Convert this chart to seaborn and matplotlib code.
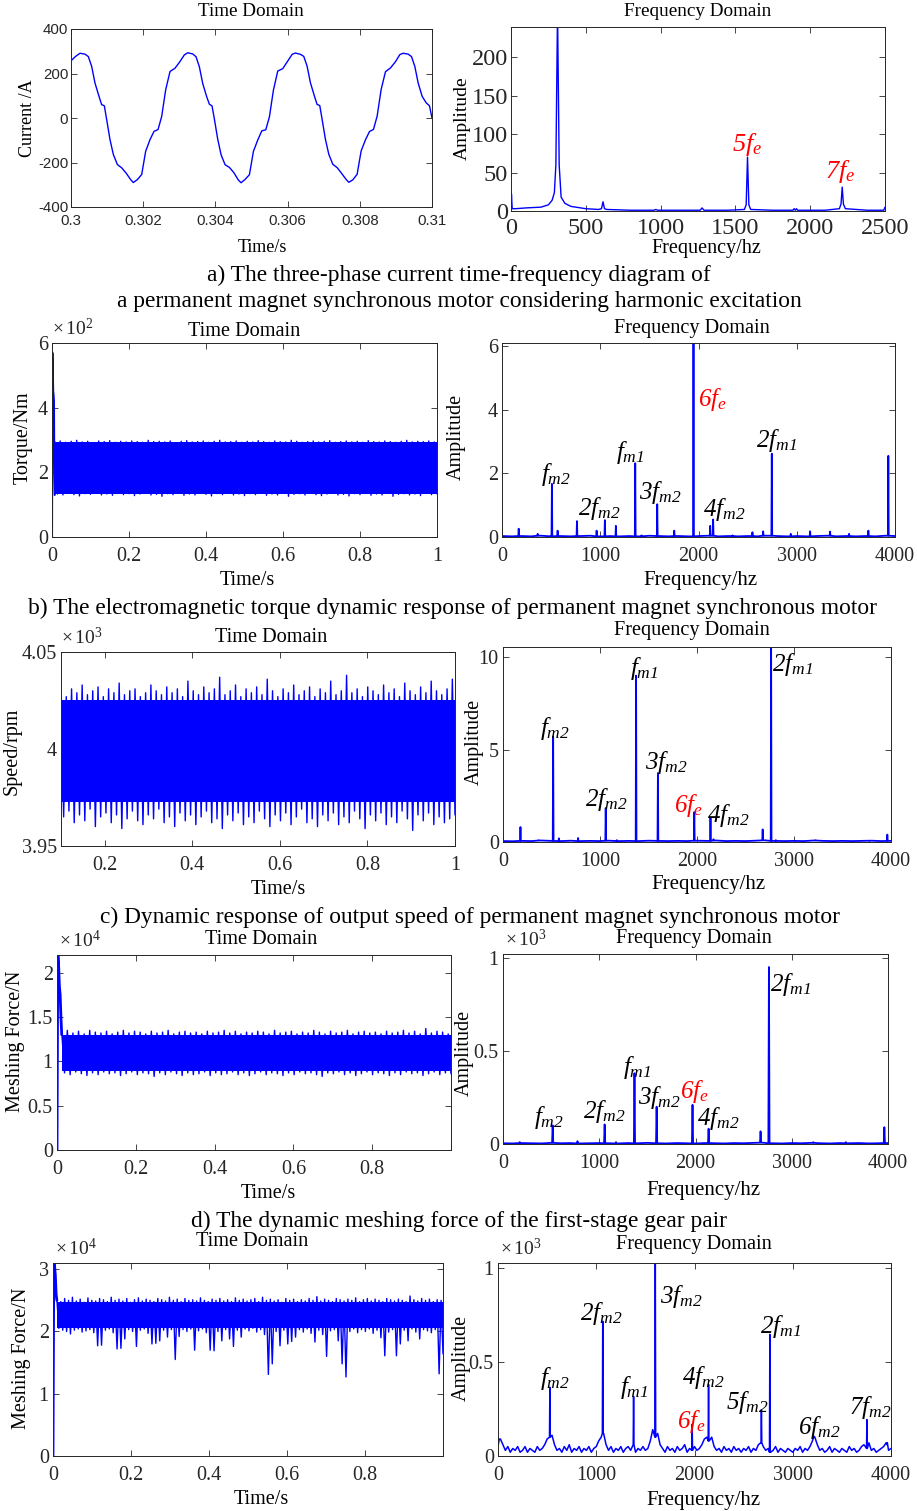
import numpy as np
import pandas as pd
import seaborn as sns
import matplotlib.pyplot as plt

# ---------------- data ----------------
# a) phase current (A) over 0.3-0.31 s
cur_t = [0.30000, 0.30012,
         0.300249, 0.300388, 0.300480, 0.300572, 0.300665, 0.300776, 0.300849, 0.300923, 0.300988, 0.301080,
         0.301173, 0.301284, 0.301404, 0.301524, 0.301653, 0.301727, 0.301838, 0.301958, 0.302069, 0.302189,
         0.302300, 0.302411, 0.302512, 0.302623, 0.302743, 0.302882, 0.303020, 0.303141,
         0.303233, 0.303372, 0.303464, 0.303556, 0.303649, 0.303760, 0.303833, 0.303907, 0.303972, 0.304064,
         0.304157, 0.304268, 0.304388, 0.304508, 0.304637, 0.304711, 0.304822, 0.304942, 0.305053, 0.305173,
         0.305284, 0.305395, 0.305496, 0.305607, 0.305727, 0.305866, 0.306004, 0.306125,
         0.306217, 0.306356, 0.306448, 0.306540, 0.306633, 0.306744, 0.306817, 0.306891, 0.306956, 0.307048,
         0.307141, 0.307252, 0.307372, 0.307492, 0.307621, 0.307695, 0.307806, 0.307926, 0.308037, 0.308157,
         0.308268, 0.308379, 0.308480, 0.308591, 0.308711, 0.308850, 0.308988, 0.309109,
         0.309201, 0.309340, 0.309432, 0.309524, 0.309617, 0.309728, 0.309840, 0.309930, 0.310000]
cur_a = [257, 276,
         291, 287, 276, 232, 157, 97, 60, 55, -7, -97, -164, -209, -224, -247, -277, -290, -277, -254, -149, -97,
         -60, -52, 7, 127, 209, 224, 254, 284,
         293, 288, 275, 230, 155, 95, 62, 54, -5, -95, -165, -210, -222, -245, -279, -291, -276, -255, -150, -99,
         -58, -53, 5, 125, 211, 222, 256, 286,
         292, 286, 277, 233, 158, 98, 61, 56, -6, -96, -163, -208, -223, -248, -276, -289, -278, -253, -148, -98,
         -61, -51, 8, 128, 208, 225, 253, 285,
         291, 287, 276, 232, 157, 97, 68, 55, 0]

# a) current spectrum
a_freq = [0, 3, 8, 30, 100, 200, 250, 275, 290, 300, 311, 322, 335, 360, 400, 500, 585, 605, 615, 625,
          640, 800, 955, 968, 980, 1150, 1265, 1277, 1290, 1450, 1560, 1572, 1581, 1590, 1602, 1750, 1885, 1892,
          1900, 1908, 1915, 2100, 2195, 2206, 2214, 2222, 2235, 2380, 2492, 2500]
a_amp = [0, 22, 3, 3, 4, 5, 8, 14, 24, 60, 260, 60, 18, 10, 6, 3, 2, 3, 12, 3,
         2, 1, 1, 2, 1, 1, 1, 4, 1, 1, 2, 8, 70, 8, 2, 1, 1, 3, 1, 3,
         1, 1, 3, 9, 31, 9, 3, 1, 1, 5]

# b) electromagnetic torque (x10^2 Nm): start-up transient + band edges
b_tr_t = [0, 0.001, 0.002, 0.003, 0.004, 0.005, 0.006, 0.007]
b_tr_v = [0, 5.7, 5.2, 4.5, 4.4, 4.2, 2.0, 1.3]
b_core = [1.33, 2.93]
b_hi = [2.95, 2.97, 2.93, 2.96, 2.99, 2.94, 2.96, 2.92, 2.97, 2.95, 2.98, 2.93, 2.96, 2.94, 2.97, 2.95, 2.93, 2.99,
        2.95, 2.96, 2.94, 2.97, 2.92, 2.96, 2.98, 2.94, 2.95, 2.97, 2.93, 2.96, 2.99, 2.94, 2.95, 2.97, 2.93, 2.96,
        2.94, 2.98, 2.95, 2.93, 2.97, 2.95, 2.94, 2.99, 2.96, 2.93, 2.95, 2.97, 2.94, 2.96, 2.98, 2.93, 2.95, 2.97,
        2.94, 2.96, 2.93, 2.98, 2.95, 2.94, 2.97, 2.95, 2.93, 2.96, 2.99, 2.94, 2.96, 2.95, 2.97, 2.94]
b_lo = [1.33, 1.30, 1.35, 1.31, 1.27, 1.34, 1.32, 1.36, 1.30, 1.33, 1.29, 1.35, 1.31, 1.34, 1.28, 1.33, 1.36, 1.30,
        1.32, 1.26, 1.34, 1.31, 1.35, 1.29, 1.33, 1.30, 1.36, 1.32, 1.27, 1.34, 1.31, 1.35, 1.30, 1.33, 1.28, 1.34,
        1.31, 1.36, 1.29, 1.33, 1.30, 1.35, 1.26, 1.32, 1.34, 1.30, 1.36, 1.31, 1.28, 1.33, 1.35, 1.30, 1.32, 1.27,
        1.34, 1.31, 1.36, 1.29, 1.33, 1.30, 1.35, 1.26, 1.32, 1.34, 1.30, 1.33, 1.28, 1.35, 1.31, 1.33]
b_pk_f = [170, 363, 508, 566, 763, 963, 1047, 1159, 1356, 1420, 1580, 1753, 1949, 2119, 2149, 2346, 2549, 2658,
          2746, 2939, 3136, 3339, 3532, 3729, 3932]
b_pk_a = [0.26, 0.1, 1.67, 0.2, 0.5, 0.2, 0.53, 0.35, 2.32, 0.05, 1.03, 0.2, 6.3, 0.35, 0.55, 0.05, 0.15, 0.18,
          2.62, 0.1, 0.18, 0.17, 0.1, 0.2, 2.55]
b_floor = [0.03, 0.02, 0.03, 0.02, 0.04, 0.02, 0.03, 0.02, 0.03, 0.04, 0.02, 0.03, 0.02, 0.03, 0.02, 0.04, 0.03,
           0.02, 0.03, 0.02, 0.03, 0.04, 0.02, 0.03, 0.02, 0.03, 0.02, 0.04, 0.03, 0.02, 0.03, 0.02, 0.03, 0.04,
           0.02, 0.03, 0.02, 0.03, 0.02, 0.04, 0.03]

# c) output speed (x10^3 rpm)
c_core = [3.9725, 4.0255]
c_hi = [4.030, 4.027, 4.031, 4.029, 4.033, 4.028, 4.030, 4.032, 4.027, 4.031, 4.029, 4.034, 4.028, 4.030, 4.031,
        4.027, 4.029, 4.033, 4.030, 4.028, 4.032, 4.029, 4.031, 4.027, 4.035, 4.030, 4.028, 4.032, 4.029, 4.031,
        4.037, 4.028, 4.030, 4.033, 4.027, 4.031, 4.029, 4.032, 4.028, 4.036, 4.030, 4.027, 4.031, 4.029, 4.033,
        4.028, 4.030, 4.032, 4.027, 4.031, 4.029, 4.035, 4.028, 4.030, 4.038, 4.029, 4.031, 4.027, 4.032, 4.030,
        4.028, 4.033, 4.029, 4.031, 4.027, 4.034, 4.030, 4.028, 4.032, 4.029, 4.035, 4.030, 4.028, 4.031, 4.036]
c_lo = [3.965, 3.968, 3.962, 3.966, 3.963, 3.969, 3.960, 3.965, 3.967, 3.962, 3.966, 3.959, 3.964, 3.968, 3.963,
        3.961, 3.966, 3.964, 3.969, 3.962, 3.965, 3.960, 3.967, 3.963, 3.966, 3.961, 3.965, 3.968, 3.962, 3.964,
        3.959, 3.966, 3.963, 3.967, 3.961, 3.965, 3.962, 3.968, 3.964, 3.960, 3.966, 3.963, 3.967, 3.961, 3.965,
        3.969, 3.962, 3.964, 3.960, 3.966, 3.963, 3.967, 3.961, 3.965, 3.962, 3.968, 3.964, 3.959, 3.966, 3.963,
        3.967, 3.961, 3.965, 3.962, 3.968, 3.964, 3.958, 3.966, 3.963, 3.967, 3.961, 3.965, 3.962, 3.964, 3.966]
c_pk_f = [180, 368, 517, 576, 774, 1059, 1174, 1372, 1597, 1972, 2139, 2170, 2677, 2764, 2813, 3222, 3778, 3962]
c_pk_a = [0.81, 0.1, 5.71, 0.2, 0.22, 1.84, 0.1, 9.0, 3.73, 1.62, 1.3, 0.15, 0.68, 11.0, 0.1, 0.1, 0.05, 0.4]
c_floor = [0.05, 0.04, 0.06, 0.05, 0.08, 0.06, 0.05, 0.07, 0.05, 0.06, 0.05, 0.07, 0.05, 0.06, 0.05, 0.07, 0.06,
           0.05, 0.06, 0.05, 0.07, 0.06, 0.08, 0.05, 0.06, 0.05, 0.07, 0.09, 0.06, 0.05, 0.06, 0.05, 0.08, 0.06,
           0.05, 0.06, 0.05, 0.06, 0.07, 0.05, 0.06]

# d) first-stage meshing force (x10^4 N)
d_tr_t = [0, 0.002, 0.004, 0.006, 0.008, 0.010, 0.012]
d_tr_v = [0, 2.25, 2.1, 1.85, 1.75, 1.5, 1.3]
d_core = [0.89, 1.30]
d_hi = [1.33, 1.35, 1.32, 1.34, 1.31, 1.35, 1.33, 1.32, 1.34, 1.31, 1.33, 1.35, 1.32, 1.34, 1.33, 1.31, 1.34, 1.32,
        1.33, 1.35, 1.31, 1.33, 1.34, 1.32, 1.33, 1.31, 1.34, 1.32, 1.33, 1.35, 1.32, 1.34, 1.31, 1.33, 1.32, 1.34,
        1.33, 1.31, 1.35, 1.32, 1.33, 1.34, 1.31, 1.33, 1.32, 1.35, 1.33, 1.31, 1.34, 1.32, 1.33, 1.35, 1.31, 1.33,
        1.34, 1.32, 1.33, 1.31, 1.34, 1.32, 1.33, 1.35, 1.32, 1.34, 1.31, 1.37, 1.32, 1.34, 1.33, 1.31]
d_lo = [0.87, 0.85, 0.88, 0.86, 0.84, 0.87, 0.85, 0.88, 0.86, 0.87, 0.84, 0.86, 0.88, 0.85, 0.87, 0.86, 0.83, 0.87,
        0.85, 0.88, 0.86, 0.84, 0.87, 0.85, 0.86, 0.88, 0.84, 0.87, 0.85, 0.86, 0.88, 0.85, 0.87, 0.84, 0.86, 0.88,
        0.85, 0.87, 0.86, 0.84, 0.87, 0.85, 0.88, 0.86, 0.87, 0.85, 0.83, 0.87, 0.86, 0.88, 0.85, 0.87, 0.84, 0.86,
        0.88, 0.85, 0.87, 0.86, 0.84, 0.87, 0.85, 0.88, 0.86, 0.87, 0.84, 0.86, 0.88, 0.85, 0.87, 0.86]
d_pk_f = [174, 516, 774, 1056, 1174, 1366, 1596, 1969, 2136, 2676, 2763, 3223, 3561, 3962]
d_pk_a = [0.01, 0.1, 0.015, 0.105, 0.01, 0.38, 0.2, 0.21, 0.082, 0.068, 0.95, 0.01, 0.01, 0.09]
d_floor = [0.004, 0.003, 0.005, 0.004, 0.003, 0.006, 0.004, 0.005, 0.003, 0.004, 0.005, 0.004, 0.003, 0.005,
           0.004, 0.006, 0.004, 0.003, 0.005, 0.004, 0.003, 0.005, 0.004, 0.003, 0.005, 0.004, 0.006, 0.007,
           0.004, 0.003, 0.005, 0.004, 0.006, 0.004, 0.003, 0.005, 0.004, 0.005, 0.003, 0.004, 0.005]

# e) second-stage meshing force (x10^4 N)
e_tr_t = [0, 0.002, 0.004, 0.006, 0.008, 0.010]
e_tr_v = [0, 3.15, 3.05, 2.9, 2.6, 2.5]
e_core = [2.06, 2.47]
e_hi = [2.51, 2.48, 2.53, 2.50, 2.55, 2.49, 2.52, 2.47, 2.54, 2.50, 2.49, 2.53, 2.51, 2.48, 2.55, 2.50, 2.52, 2.49,
        2.53, 2.47, 2.51, 2.54, 2.49, 2.52, 2.50, 2.48, 2.53, 2.51, 2.49, 2.55, 2.50, 2.52, 2.48, 2.53, 2.50, 2.51,
        2.49, 2.54, 2.50, 2.48, 2.52, 2.50, 2.53, 2.49, 2.51, 2.48, 2.54, 2.50, 2.52, 2.49, 2.51, 2.53, 2.48, 2.55,
        2.50, 2.52, 2.49, 2.51, 2.47, 2.53, 2.50, 2.52, 2.48, 2.51, 2.49, 2.53, 2.50, 2.56, 2.49, 2.52, 2.50, 2.48,
        2.53, 2.51, 2.49, 2.52, 2.50, 2.54, 2.48, 2.51, 2.53, 2.49, 2.52, 2.50, 2.48, 2.53, 2.51, 2.49, 2.52, 2.50,
        2.48, 2.57, 2.51, 2.49, 2.53, 2.50, 2.52, 2.48, 2.51, 2.50]
e_lo = [2.05, 2.02, 2.00, 1.96, 2.02, 2.04, 1.99, 2.01, 2.03, 1.98, 1.77, 1.78, 2.02, 2.04, 1.98, 1.72, 1.73, 1.88,
        2.03, 2.00, 1.76, 2.02, 2.04, 1.97, 1.80, 1.81, 1.85, 2.02, 1.91, 2.03, 1.55, 1.92, 2.03, 2.00, 2.04, 1.70,
        2.01, 2.04, 1.98, 1.70, 1.69, 2.00, 1.85, 2.03, 1.88, 1.76, 2.02, 1.91, 2.04, 2.01, 2.05, 1.99, 2.03, 1.95,
        1.31, 1.48, 2.00, 1.77, 2.02, 1.80, 1.84, 1.91, 2.03, 1.99, 2.04, 1.97, 1.83, 2.02, 1.95, 1.60, 2.01, 2.03,
        1.85, 1.48, 1.27, 2.00, 2.04, 1.98, 2.03, 2.00, 2.04, 1.97, 2.02, 1.90, 1.61, 1.99, 2.03, 1.61, 1.80, 2.02,
        1.85, 2.04, 1.99, 1.88, 2.03, 2.01, 1.98, 2.03, 1.32, 1.64]
e_pk_f = [17, 528, 1066, 1380, 1601, 1976, 2143, 2681, 2767, 3216, 3755, 3959]
e_pk_a = [0.09, 0.365, 0.716, 0.316, 1.05, 0.168, 0.38, 0.246, 0.646, 0.105, 0.193, 0.06]
e_floor = [0.05, 0.09, 0.06, 0.03, 0.05, 0.02, 0.04, 0.03, 0.05, 0.02, 0.03, 0.05, 0.02, 0.04, 0.03, 0.02, 0.05,
           0.03, 0.04, 0.06,
           0.09, 0.10, 0.11, 0.06, 0.03, 0.04, 0.02, 0.05, 0.03, 0.06, 0.02, 0.04, 0.03, 0.05, 0.02, 0.04, 0.03,
           0.05, 0.02, 0.04,
           0.05, 0.08, 0.10, 0.12, 0.06, 0.03, 0.05, 0.02, 0.04, 0.03, 0.05, 0.02, 0.04, 0.05, 0.03, 0.06, 0.02,
           0.04, 0.03, 0.05,
           0.03, 0.04, 0.08, 0.14, 0.10, 0.12, 0.06, 0.04, 0.02, 0.05, 0.03, 0.04, 0.02, 0.05, 0.03, 0.04, 0.06,
           0.02, 0.04, 0.03,
           0.05, 0.03, 0.04, 0.06, 0.09, 0.10, 0.08, 0.10, 0.05, 0.03, 0.04, 0.02, 0.05, 0.03, 0.04, 0.02, 0.05,
           0.03, 0.04, 0.02,
           0.04, 0.03, 0.05, 0.02, 0.04, 0.03, 0.06, 0.07, 0.05, 0.03, 0.04, 0.02, 0.03, 0.05, 0.02, 0.04, 0.03,
           0.02, 0.04, 0.03,
           0.02, 0.04, 0.03, 0.05, 0.02, 0.04, 0.03, 0.05, 0.08, 0.10, 0.06, 0.03, 0.04, 0.02, 0.03, 0.05, 0.02,
           0.04, 0.03, 0.02,
           0.04, 0.03, 0.02, 0.05, 0.03, 0.04, 0.02, 0.03, 0.05, 0.06, 0.04, 0.07, 0.03, 0.04, 0.02, 0.03, 0.04,
           0.05, 0.07, 0.03,
           0.04]

# ---------------- style ----------------
sns.set_theme(style='ticks')
plt.rcParams['font.family'] = ['Liberation Serif', 'DejaVu Serif']
plt.rcParams['mathtext.fontset'] = 'custom'
# harmonic labels are fully italic (digits too); \mathsf is used for the upright exponent labels
plt.rcParams['mathtext.rm'] = 'Liberation Serif:italic'
plt.rcParams['mathtext.it'] = 'Liberation Serif:italic'
plt.rcParams['mathtext.sf'] = 'Liberation Serif'
plt.rcParams['figure.facecolor'] = 'white'
plt.rcParams['axes.facecolor'] = 'white'

W, H = 917, 1511
fig = plt.figure(figsize=(W / 100, H / 100), dpi=100)
BLUE = '#0000ff'
GREY = '#262626'
CAP = 16.8


def px_axes(x0, y0, x1, y1):
    return fig.add_axes([x0 / W, 1 - y1 / H, (x1 - x0) / W, (y1 - y0) / H])


def ftext(x, y, s, **kw):
    kw.setdefault('ha', 'center')
    kw.setdefault('va', 'center')
    kw.setdefault('color', 'black')
    fig.text(x / W, 1 - y / H, s, **kw)


def style(ax, size=14.5, xpad=7, ypad=3):
    ax.tick_params(axis='both', direction='in', top=True, right=True, length=4, width=0.6,
                   colors=GREY, labelsize=size)
    ax.tick_params(axis='x', pad=xpad)
    ax.tick_params(axis='y', pad=ypad)
    for s in ax.spines.values():
        s.set_visible(True)
        s.set_color(GREY)
        s.set_linewidth(0.7)
    ax.set_xlabel('')
    ax.set_ylabel('')


def exponent(ax, p, dx=0.0):
    ax.text(dx, 1.02, r'$\mathsf{\times\,10^{%d}}$' % p, transform=ax.transAxes,
            ha='left', va='bottom', fontsize=14, color=GREY)


def line(ax, x, y, lw=1.0):
    sns.lineplot(x=np.asarray(x, float), y=np.asarray(y, float), ax=ax, color=BLUE, linewidth=lw,
                 estimator=None, sort=False, legend=False)


def band(ax, t0, t1, hi, lo, core):
    ax.fill_between([t0, t1], core[0], core[1], color=BLUE, linewidth=0)
    t = np.linspace(t0, t1, 2 * len(hi))
    v = np.column_stack([hi, lo]).ravel()
    line(ax, t, v, lw=1.0)


def spectrum(pk_f, pk_a, floor, w=4):
    ff = np.linspace(0, 4000, len(floor))
    pts = [(f, a) for f, a in zip(ff, floor) if min(abs(f - p) for p in pk_f) > w]
    for p, a in zip(pk_f, pk_a):
        base = floor[int(np.argmin(np.abs(ff - p)))]
        pts += [(p - w, base), (p, a), (p + w, base)]
    return pd.DataFrame(sorted(pts), columns=['freq', 'amp'])


def mark(ax, x, y, s, red=False, size=18):
    ax.text(x, y, '$' + s + '$', ha='center', va='center', fontsize=size, color='red' if red else 'black')


# ---------------- row a ----------------
ax = px_axes(71, 29, 432, 207)
line(ax, cur_t, cur_a, lw=1.0)
ax.set_xlim(0.3, 0.31)
ax.set_ylim(-400, 400)
ax.set_xticks([0.3, 0.302, 0.304, 0.306, 0.308, 0.31])
ax.set_xticklabels(['0.3', '0.302', '0.304', '0.306', '0.308', '0.31'])
ax.set_yticks([-400, -200, 0, 200, 400])
ax.set_yticklabels(['-400', '-200', '0', '200', '400'])
style(ax, size=10.8, xpad=5, ypad=2)
for lbl in ax.get_xticklabels() + ax.get_yticklabels():
    lbl.set_fontfamily('Liberation Sans')
ftext(251, 12, 'Time Domain', fontsize=13.8)
ftext(28, 118, 'Current /A', fontsize=13, rotation=90)
ftext(262, 248, 'Time/s', fontsize=13)

ax = px_axes(511, 27, 885, 211)
line(ax, a_freq, a_amp, lw=1.0)
ax.set_xlim(0, 2500)
ax.set_ylim(0, 239)
ax.set_xticks([0, 500, 1000, 1500, 2000, 2500])
ax.set_xticklabels(['0', '500', '1000', '1500', '2000', '2500'])
ax.set_yticks([0, 50, 100, 150, 200])
ax.set_yticklabels(['0', '50', '100', '150', '200'])
style(ax, size=17.5, xpad=5, ypad=2)
mark(ax, 1577, 86, '5f_e', red=True, size=19)
mark(ax, 2200, 51, '7f_e', red=True, size=19)
ftext(698, 12, 'Frequency Domain', fontsize=13.8)
ftext(462, 118, 'Amplitude', fontsize=14, rotation=90)
ftext(706, 249, 'Frequency/hz', fontsize=14.5)

ftext(459, 275, 'a) The three-phase current time-frequency diagram of', fontsize=CAP)
ftext(459, 302, 'a permanent magnet synchronous motor considering harmonic excitation', fontsize=CAP)

# ---------------- row b ----------------
ax = px_axes(52, 343, 437, 537)
line(ax, b_tr_t, b_tr_v, lw=1.5)
band(ax, 0.007, 1.0, b_hi, b_lo, b_core)
ax.set_xlim(0, 1)
ax.set_ylim(0, 6)
ax.set_xticks([0, 0.2, 0.4, 0.6, 0.8, 1])
ax.set_xticklabels(['0', '0.2', '0.4', '0.6', '0.8', '1'])
ax.set_yticks([0, 2, 4, 6])
ax.set_yticklabels(['0', '2', '4', '6'])
style(ax)
exponent(ax, 2)
ftext(244, 332, 'Time Domain', fontsize=14.6)
ftext(23, 438, 'Torque/Nm', fontsize=14.5, rotation=90)
ftext(247, 580, 'Time/s', fontsize=14.5)

ax = px_axes(502, 343, 895, 537)
sp = spectrum(b_pk_f, b_pk_a, b_floor)
line(ax, sp['freq'], sp['amp'], lw=1.3)
ax.set_xlim(0, 4000)
ax.set_ylim(0, 6.1)
ax.set_xticks([0, 1000, 2000, 3000, 4000])
ax.set_xticklabels(['0', '1000', '2000', '3000', '4000'])
ax.set_yticks([0, 2, 4, 6])
ax.set_yticklabels(['0', '2', '4', '6'])
style(ax)
for x, y, s, r in [(549, 1.95, 'f_{m2}', False), (990, 0.9, '2f_{m2}', False), (1302, 2.66, 'f_{m1}', False),
                   (1607, 1.39, '3f_{m2}', False), (2142, 4.31, '6f_e', True), (2261, 0.85, '4f_{m2}', False),
                   (2793, 3.04, '2f_{m1}', False)]:
    mark(ax, x, y, s, red=r)
ftext(692, 328, 'Frequency Domain', fontsize=14.6)
ftext(456, 437, 'Amplitude', fontsize=14.5, rotation=90)
ftext(700, 580, 'Frequency/hz', fontsize=15)

ftext(453, 608, 'b) The electromagnetic torque dynamic response of permanent magnet synchronous motor',
      fontsize=CAP)

# ---------------- row c ----------------
ax = px_axes(61, 652, 455, 846)
band(ax, 0.1, 1.0, c_hi, c_lo, c_core)
ax.set_xlim(0.1, 1.0)
ax.set_ylim(3.95, 4.05)
ax.set_xticks([0.2, 0.4, 0.6, 0.8, 1.0])
ax.set_xticklabels(['0.2', '0.4', '0.6', '0.8', '1'])
ax.set_yticks([3.95, 4.0, 4.05])
ax.set_yticklabels(['3.95', '4', '4.05'])
style(ax)
exponent(ax, 3)
ftext(271, 638, 'Time Domain', fontsize=14.6)
ftext(12, 751, 'Speed/rpm', fontsize=14.5, rotation=90)
ftext(278, 889, 'Time/s', fontsize=14.5)

ax = px_axes(503, 647, 891, 842)
sp = spectrum(c_pk_f, c_pk_a, c_floor)
line(ax, sp['freq'], sp['amp'], lw=1.3)
ax.set_xlim(0, 4000)
ax.set_ylim(0, 10.55)
ax.set_xticks([0, 1000, 2000, 3000, 4000])
ax.set_xticklabels(['0', '1000', '2000', '3000', '4000'])
ax.set_yticks([0, 5, 10])
ax.set_yticklabels(['0', '5', '10'])
style(ax)
for x, y, s, r in [(538, 6.16, 'f_{m2}', False), (1066, 2.31, '2f_{m2}', False), (1451, 9.37, 'f_{m1}', False),
                   (1684, 4.29, '3f_{m2}', False), (1910, 1.95, '6f_e', True), (2319, 1.44, '4f_{m2}', False),
                   (2986, 9.59, '2f_{m1}', False)]:
    mark(ax, x, y, s, red=r)
ftext(692, 631, 'Frequency Domain', fontsize=14.6)
ftext(474, 742, 'Amplitude', fontsize=14.5, rotation=90)
ftext(708, 885, 'Frequency/hz', fontsize=15)

ftext(470, 917, 'c) Dynamic response of output speed of permanent magnet synchronous motor', fontsize=CAP)

# ---------------- row d ----------------
ax = px_axes(57, 955, 451, 1150)
line(ax, d_tr_t, d_tr_v, lw=2.0)
band(ax, 0.012, 1.0, d_hi, d_lo, d_core)
ax.set_xlim(0, 1)
ax.set_ylim(0, 2.2)
ax.set_xticks([0, 0.2, 0.4, 0.6, 0.8, 1])
ax.set_xticklabels(['0', '0.2', '0.4', '0.6', '0.8', ''])
ax.set_yticks([0, 0.5, 1, 1.5, 2])
ax.set_yticklabels(['0', '0.5', '1', '1.5', '2'])
style(ax)
exponent(ax, 4, 0.005)
ftext(261, 940, 'Time Domain', fontsize=14.6)
ftext(16, 1041, 'Meshing Force/N', fontsize=14.5, rotation=90)
ftext(268, 1193, 'Time/s', fontsize=14.5)

ax = px_axes(503, 954, 888, 1144)
sp = spectrum(d_pk_f, d_pk_a, d_floor, w=6)
line(ax, sp['freq'], sp['amp'], lw=1.3)
ax.set_xlim(0, 4000)
ax.set_ylim(0, 1.02)
ax.set_xticks([0, 1000, 2000, 3000, 4000])
ax.set_xticklabels(['0', '1000', '2000', '3000', '4000'])
ax.set_yticks([0, 0.5, 1])
ax.set_yticklabels(['0', '0.5', '1'])
style(ax)
exponent(ax, 3, 0.005)
for x, y, s, r in [(481, 0.14, 'f_{m2}', False), (1052, 0.175, '2f_{m2}', False), (1394, 0.41, 'f_{m1}', False),
                   (1620, 0.25, '3f_{m2}', False), (1985, 0.28, '6f_e', True), (2237, 0.135, '4f_{m2}', False),
                   (2986, 0.854, '2f_{m1}', False)]:
    mark(ax, x, y, s, red=r)
ftext(694, 939, 'Frequency Domain', fontsize=14.6)
ftext(464, 1053, 'Amplitude', fontsize=14.5, rotation=90)
ftext(703, 1190, 'Frequency/hz', fontsize=15)

ftext(459, 1221, 'd) The dynamic meshing force of the first-stage gear pair', fontsize=CAP)

# ---------------- row e ----------------
ax = px_axes(53, 1263, 443, 1456)
line(ax, e_tr_t, e_tr_v, lw=2.0)
band(ax, 0.01, 1.0, e_hi, e_lo, e_core)
ax.set_xlim(0, 1)
ax.set_ylim(0, 3.1)
ax.set_xticks([0, 0.2, 0.4, 0.6, 0.8, 1])
ax.set_xticklabels(['0', '0.2', '0.4', '0.6', '0.8', ''])
ax.set_yticks([0, 1, 2, 3])
ax.set_yticklabels(['0', '1', '2', '3'])
style(ax)
exponent(ax, 4, 0.005)
ftext(252, 1242, 'Time Domain', fontsize=14.6)
ftext(22, 1358, 'Meshing Force/N', fontsize=14.5, rotation=90)
ftext(261, 1500, 'Time/s', fontsize=14.5)

ax = px_axes(498, 1263, 891, 1456)
sp = spectrum(e_pk_f, e_pk_a, e_floor)
line(ax, sp['freq'], sp['amp'], lw=1.1)
ax.set_xlim(0, 4000)
ax.set_ylim(0, 1.025)
ax.set_xticks([0, 1000, 2000, 3000, 4000])
ax.set_xticklabels(['0', '1000', '2000', '3000', '4000'])
ax.set_yticks([0, 0.5, 1])
ax.set_yticklabels(['0', '0.5', '1'])
style(ax)
exponent(ax, 3, 0.005)
for x, y, s, r in [(576, 0.414, 'f_{m2}', False), (1053, 0.756, '2f_{m2}', False), (1387, 0.365, 'f_{m1}', False),
                   (1870, 0.847, '3f_{m2}', False), (1966, 0.181, '6f_e', True), (2092, 0.418, '4f_{m2}', False),
                   (2535, 0.286, '5f_{m2}', False), (2876, 0.686, '2f_{m1}', False),
                   (3267, 0.154, '6f_{m2}', False), (3789, 0.256, '7f_{m2}', False)]:
    mark(ax, x, y, s, red=r)
ftext(694, 1244, 'Frequency Domain', fontsize=14.6)
ftext(461, 1358, 'Amplitude', fontsize=14.5, rotation=90)
ftext(703, 1501, 'Frequency/hz', fontsize=15)

fig.savefig('out.png', dpi=100)
